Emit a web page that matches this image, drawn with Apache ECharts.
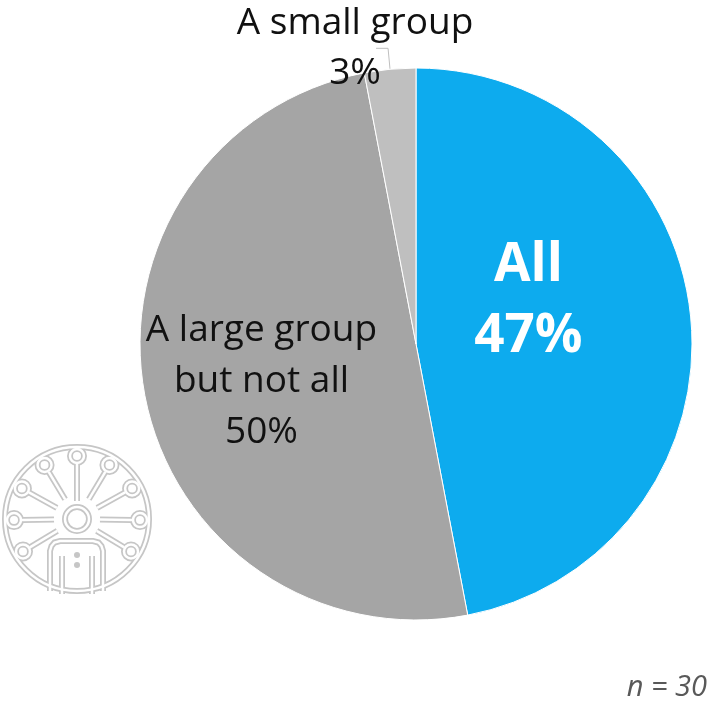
<!DOCTYPE html>
<html>
<head>
<meta charset="utf-8">
<script src="https://cdn.jsdelivr.net/npm/echarts@6/dist/echarts.min.js"></script>
<style>
  html, body { margin: 0; padding: 0; background: #fff; }
  #chart { width: 709px; height: 706px; }
</style>
</head>
<body>
<div id="chart"></div>
<script>
// Share of answers, in percent
const categories = ['All', 'A large group\nbut not all', 'A small group'];
const shares = [47, 50, 3];
const sliceColors = ['#0DABEE', '#A5A5A5', '#BFBFBF'];
const sampleNote = 'n = 30';

const FONT = '"Open Sans", "Noto Sans", sans-serif';

// Outlined line-art emblem (drawn twice: grey outline, white core)
function emblem() {
  const cx = 77, cy = 519, R = 72;
  const shapes = [];
  shapes.push({ type: 'circle', shape: { cx, cy, r: R } });
  shapes.push({ type: 'circle', shape: { cx, cy, r: 12 } });
  const angles = [0, 31, -31, 61, -61, 91, -91, 121, -121];
  angles.forEach(a => {
    const rad = a * Math.PI / 180;
    const s = Math.sin(rad), c = -Math.cos(rad);
    const inner = a === 0 ? 18 : 23;
    shapes.push({ type: 'line', shape: { x1: cx + s * inner, y1: cy + c * inner, x2: cx + s * 55, y2: cy + c * 55 } });
    shapes.push({ type: 'circle', shape: { cx: cx + s * 63, cy: cy + c * 63, r: 7 } });
  });
  shapes.push({ type: 'polyline', shape: { points: [[50, 591], [50, 551], [51.5, 546], [54.5, 542.5], [60, 541], [93, 541], [98.5, 542.5], [101.5, 546], [103, 551], [103, 591]] } });
  shapes.push({ type: 'line', shape: { x1: 62, y1: 556, x2: 62, y2: 594 } });
  shapes.push({ type: 'line', shape: { x1: 92, y1: 556, x2: 92, y2: 594 } });
  const out = [];
  shapes.forEach(sh => out.push(Object.assign({}, sh, { z: 0, style: { fill: 'none', stroke: '#c6c6c6', lineWidth: 6 } })));
  shapes.forEach(sh => out.push(Object.assign({}, sh, { z: 1, style: { fill: 'none', stroke: '#ffffff', lineWidth: 2.5 } })));
  out.push({ type: 'circle', z: 2, shape: { cx: 77, cy: 555, r: 3 }, style: { fill: '#c6c6c6' } });
  out.push({ type: 'circle', z: 2, shape: { cx: 77, cy: 565, r: 3 }, style: { fill: '#c6c6c6' } });
  return { type: 'group', silent: true, children: out };
}

const labelStyles = [
  { position: 'inside', color: '#ffffff', fontWeight: 'bold', fontSize: 53, lineHeight: 71 },
  { position: 'inside', color: '#111111', fontSize: 37, lineHeight: 51 },
  { position: 'outside', color: '#111111', fontSize: 37, lineHeight: 50 }
];
const labelShift = [[-28, -29], [-16, 11]];

const chart = echarts.init(document.getElementById('chart'), null, { renderer: 'canvas' });
chart.setOption({
  animation: false,
  graphic: [
    emblem(),
    {
      type: 'text', right: 2, bottom: 4,
      style: { text: sampleNote, font: 'italic 29px ' + FONT, fill: '#595959' }
    }
  ],
  series: [{
    type: 'pie',
    center: [416, 344],
    radius: 276,
    startAngle: 90,
    clockwise: true,
    avoidLabelOverlap: false,
    z: 3,
    itemStyle: { borderColor: '#ffffff', borderWidth: 1 },
    label: {
      fontFamily: FONT,
      formatter: p => p.name + '\n' + p.value + '%'
    },
    labelLine: { show: true, length: 21, length2: 12, lineStyle: { color: '#BFBFBF', width: 1 } },
    labelLayout: function (p) {
      // centre the small-slice label just left of its leader line
      if (p.dataIndex === 2 && p.labelLinePoints) {
        const pts = p.labelLinePoints;
        return {
          x: pts[2][0] - 21, y: pts[2][1],
          align: 'center', verticalAlign: 'middle',
          labelLinePoints: pts
        };
      }
      const s = labelShift[p.dataIndex];
      return s ? { dx: s[0], dy: s[1] } : {};
    },
    data: categories.map((name, i) => ({
      name,
      value: shares[i],
      itemStyle: { color: sliceColors[i] },
      label: labelStyles[i],
      labelLine: { show: i === 2 }
    }))
  }]
});
</script>
</body>
</html>
